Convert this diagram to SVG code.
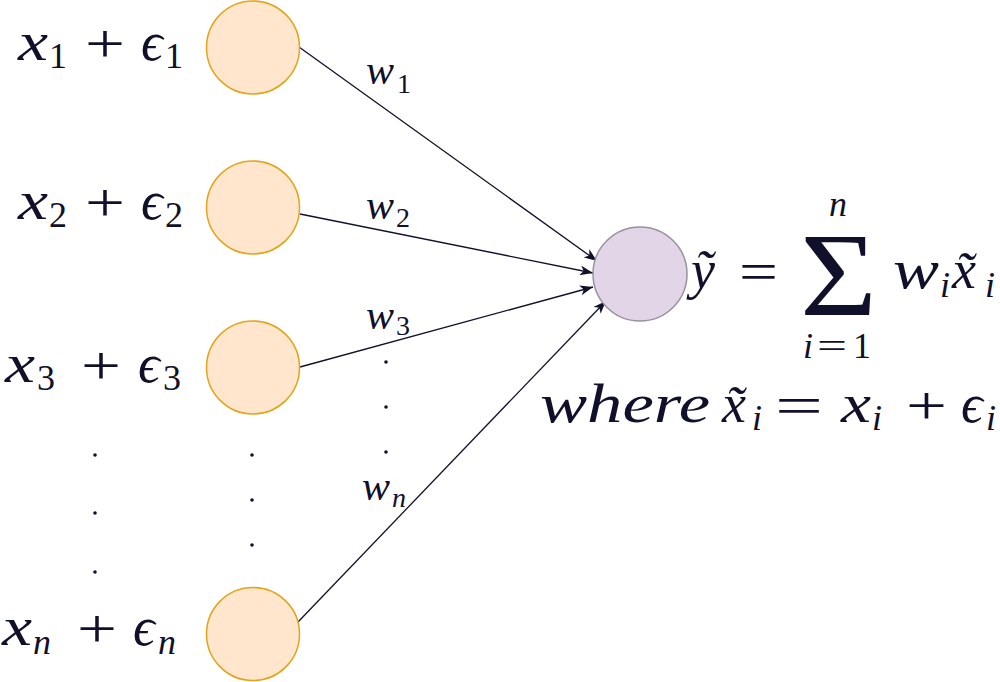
<svg xmlns="http://www.w3.org/2000/svg" width="1000" height="682" viewBox="0 0 1000 682">
<defs>
<style>
text{font-family:'Liberation Serif','DejaVu Serif',serif;fill:#10102a;}
.i{font-style:italic;}
.m{font-size:54px;}
.s{font-size:36px;}
.w{font-size:42px;}
.ws{font-size:28px;}
.in{fill:#ffe6cc;stroke:#e3a41a;stroke-width:1.5;}
.out{fill:#e1d5e7;stroke:#9a929f;stroke-width:1.5;}
.c{stroke:#10102a;stroke-width:1.3;fill:none;marker-end:url(#arr);}
.d{fill:#10102a;}
</style>
<marker id="arr" markerUnits="userSpaceOnUse" markerWidth="14" markerHeight="10" refX="13" refY="5" orient="auto">
<path d="M0,0 L13,5 L0,10 L3.5,5 z" fill="#10102a"/>
</marker>
</defs>
<rect width="1000" height="682" fill="#ffffff"/>

<g id="connectors">
<line class="c" x1="299" y1="47" x2="597" y2="261"/>
<line class="c" x1="300" y1="214" x2="593" y2="273"/>
<line class="c" x1="300" y1="367" x2="593" y2="287"/>
<line class="c" x1="298" y1="622" x2="606" y2="301"/>
</g>

<g id="weights">
<text class="i w" x="366" y="84">w<tspan class="ws" font-style="normal" x="397" y="93">1</tspan></text>
<text class="i w" x="366" y="219">w<tspan class="ws" font-style="normal" x="396" y="227">2</tspan></text>
<text class="i w" x="366" y="329">w<tspan class="ws" font-style="normal" x="396" y="335">3</tspan></text>
<text class="i w" x="362" y="500">w<tspan class="ws" x="392" y="507">n</tspan></text>
</g>

<g id="dots">
<circle class="d" cx="386" cy="362" r="1.8"/>
<circle class="d" cx="386" cy="407" r="1.8"/>
<circle class="d" cx="386" cy="452" r="1.8"/>
<circle class="d" cx="252" cy="455" r="1.8"/>
<circle class="d" cx="252" cy="500" r="1.8"/>
<circle class="d" cx="252" cy="545" r="1.8"/>
<circle class="d" cx="95" cy="455" r="1.8"/>
<circle class="d" cx="95" cy="513" r="1.8"/>
<circle class="d" cx="95" cy="572" r="1.8"/>
</g>

<g id="input1">
<circle class="in" cx="253" cy="47.5" r="46.5"/>
<text class="m"><tspan class="i" x="18" y="60" textLength="30" lengthAdjust="spacingAndGlyphs">x</tspan><tspan class="s" x="49" y="68">1</tspan><tspan x="85" y="62" textLength="40" lengthAdjust="spacingAndGlyphs">+</tspan><tspan class="i" x="141" y="60">ϵ</tspan><tspan class="s" x="165" y="68">1</tspan></text>
</g>
<g id="input2">
<circle class="in" cx="253" cy="207.5" r="46.5"/>
<text class="m"><tspan class="i" x="18" y="219" textLength="30" lengthAdjust="spacingAndGlyphs">x</tspan><tspan class="s" x="49" y="227">2</tspan><tspan x="85" y="221" textLength="40" lengthAdjust="spacingAndGlyphs">+</tspan><tspan class="i" x="141" y="219">ϵ</tspan><tspan class="s" x="165" y="227">2</tspan></text>
</g>
<g id="input3">
<circle class="in" cx="253" cy="367.5" r="46.5"/>
<text class="m"><tspan class="i" x="5" y="382" textLength="30" lengthAdjust="spacingAndGlyphs">x</tspan><tspan class="s" x="37" y="390">3</tspan><tspan x="81" y="384" textLength="40" lengthAdjust="spacingAndGlyphs">+</tspan><tspan class="i" x="138" y="382">ϵ</tspan><tspan class="s" x="163" y="390">3</tspan></text>
</g>
<g id="inputn">
<circle class="in" cx="253" cy="634" r="46.5"/>
<text class="m"><tspan class="i" x="2" y="645" textLength="30" lengthAdjust="spacingAndGlyphs">x</tspan><tspan class="s i" x="33" y="654">n</tspan><tspan x="77" y="647" textLength="40" lengthAdjust="spacingAndGlyphs">+</tspan><tspan class="i" x="133" y="645">ϵ</tspan><tspan class="s i" x="158" y="654">n</tspan></text>
</g>

<g id="output">
<circle class="out" cx="640" cy="274" r="47"/>
<text class="m"><tspan class="i" x="691" y="288">ỹ</tspan><tspan x="739" y="290" textLength="39" lengthAdjust="spacingAndGlyphs">=</tspan><tspan x="800" y="315" font-size="118" textLength="77" lengthAdjust="spacingAndGlyphs">Σ</tspan><tspan class="i s" x="829" y="216">n</tspan><tspan class="i s" x="803" y="358">i</tspan><tspan class="s" x="817" y="358" textLength="30" lengthAdjust="spacingAndGlyphs">=</tspan><tspan class="s" x="853" y="358">1</tspan><tspan class="i" x="893" y="288" textLength="46" lengthAdjust="spacingAndGlyphs">w</tspan><tspan class="s i" x="940" y="297">i</tspan><tspan class="i" x="952" y="288">x̃</tspan><tspan class="s i" x="985" y="297">i</tspan></text>
</g>

<g id="where">
<text class="m"><tspan class="i" x="540" y="422" textLength="170" lengthAdjust="spacingAndGlyphs">where</tspan><tspan class="i" x="722" y="422">x̃</tspan><tspan class="s i" x="752" y="430">i</tspan><tspan x="775" y="424" textLength="48" lengthAdjust="spacingAndGlyphs">=</tspan><tspan class="i" x="841" y="422" textLength="30" lengthAdjust="spacingAndGlyphs">x</tspan><tspan class="s i" x="872" y="430">i</tspan><tspan x="906" y="424" textLength="41" lengthAdjust="spacingAndGlyphs">+</tspan><tspan class="i" x="961" y="422">ϵ</tspan><tspan class="s i" x="986" y="430">i</tspan></text>
</g>
</svg>
